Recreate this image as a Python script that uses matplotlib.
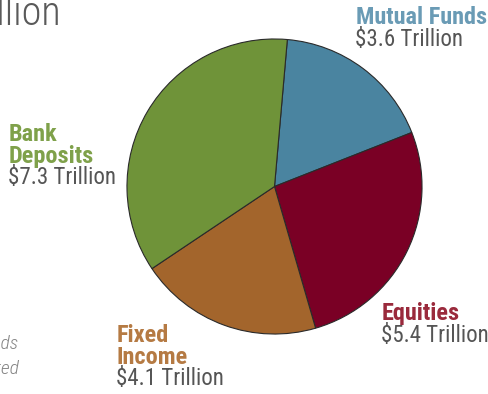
import matplotlib
matplotlib.use("Agg")
import matplotlib.pyplot as plt

# Household financial assets by category
categories = ["Mutual Funds", "Equities", "Fixed Income", "Bank Deposits"]
label_lines = [["Mutual Funds"], ["Equities"], ["Fixed", "Income"], ["Bank", "Deposits"]]
values = [3.6, 5.4, 4.1, 7.3]  # $ trillion
value_labels = ["$3.6 Trillion", "$5.4 Trillion", "$4.1 Trillion", "$7.3 Trillion"]

slice_colors = ["#4a84a0", "#7a0025", "#a3652c", "#6f9339"]
label_colors = ["#6a9bb5", "#9a2a3c", "#b57a43", "#7fa14a"]

W, H = 488, 394
fig = plt.figure(figsize=(W / 100, H / 100), dpi=100)
fig.patch.set_facecolor("white")

FONT = ["Roboto Condensed", "DejaVu Sans"]


def fx(px):
    return px / W


def fy(py):
    return 1 - py / H


# Pie
cx, cy, r = 274.5, 186.5, 149
ax = fig.add_axes([fx(cx - r), fy(cy + r), 2 * r / W, 2 * r / H])
ax.pie(values, colors=slice_colors, startangle=85, counterclock=False,
       radius=1.0, wedgeprops=dict(edgecolor="#2a2a2a", linewidth=0.8))
ax.set_xlim(-1.01, 1.01)
ax.set_ylim(-1.01, 1.01)
ax.set_aspect("equal")
ax.axis("off")

# Category labels: (left x, baseline y of first line) in pixels
label_pos = [(356, 24), (382, 320), (117, 342), (9, 141)]
line_h = 21.5
for lines, val, lc, (lx, ly) in zip(label_lines, value_labels, label_colors, label_pos):
    for i, ln in enumerate(lines):
        fig.text(fx(lx), fy(ly + i * line_h), ln, color=lc, fontsize=17.5,
                 fontweight="bold", family=FONT, ha="left", va="baseline")
    fig.text(fx(lx - 1), fy(ly + len(lines) * line_h), val, color="#555555",
             fontsize=16.5, family=FONT, ha="left", va="baseline")

# Title (runs off the left edge)
fig.text(fx(61), fy(25), "Total Assets: $20.4 Trillion", color="#5a5a5a",
         fontsize=29, fontweight="light", family=FONT, ha="right", va="baseline")

# Footnote (runs off the left edge)
fig.text(fx(18), fy(349), "*Includes money market funds", color="#858585",
         fontsize=14, style="italic", fontweight="light", family=FONT,
         ha="right", va="baseline")
fig.text(fx(18.5), fy(374), "and assets not separately listed", color="#858585",
         fontsize=14, style="italic", fontweight="light", family=FONT,
         ha="right", va="baseline")

fig.savefig("out.png", dpi=100, facecolor="white")
